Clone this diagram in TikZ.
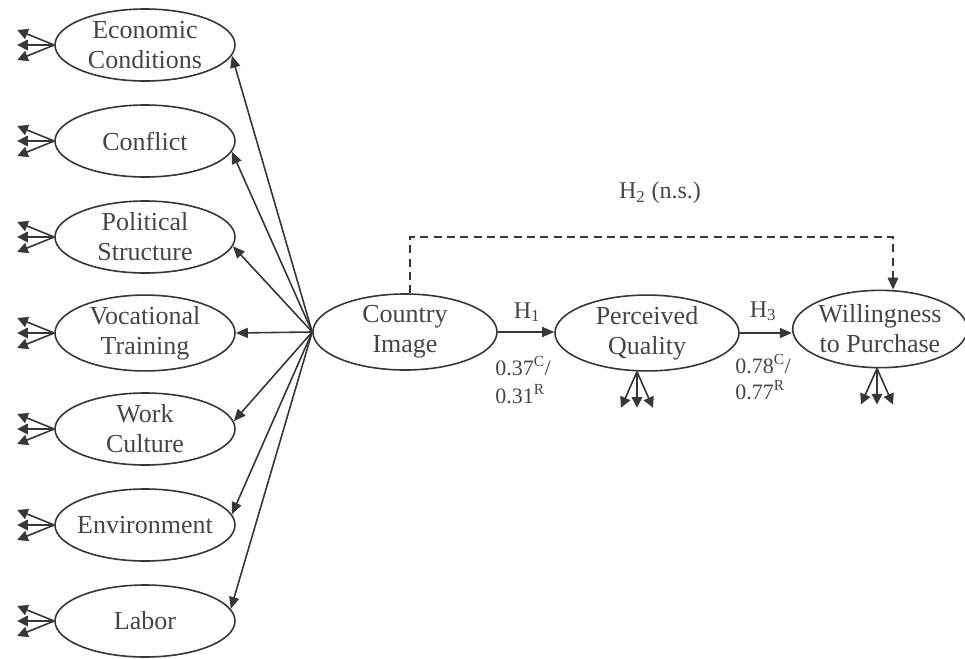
\documentclass[tikz,border=0pt]{standalone}
\usepackage{fontspec}
\setmainfont{Liberation Serif}
\usetikzlibrary{shapes.geometric,arrows.meta}
\definecolor{ink}{RGB}{52,56,56}
\definecolor{txt}{RGB}{68,70,70}
\begin{document}
\begin{tikzpicture}[x=0.75pt,y=-0.75pt,
  construct/.style={ellipse,draw=ink,line width=1.2pt,inner sep=0pt,align=center,
    text=txt,font=\fontsize{19.5}{22.5}\selectfont},
  dimension/.style={construct,minimum width=135pt,minimum height=54pt},
  path/.style={draw=ink,line width=1.2pt,-{Triangle[length=9pt,width=7.5pt]}},
  indicator/.style={draw=ink,line width=1.2pt,-{Triangle[length=8pt,width=8pt]}},
  h2path/.style={draw=ink,line width=1.2pt,dash pattern=on 6pt off 4pt,
    -{Triangle[length=9pt,width=8pt]}},
  coef/.style={text=txt,font=\fontsize{16.5}{20}\selectfont,align=left,inner sep=0pt},
  hyp/.style={text=txt,font=\fontsize{18}{21}\selectfont,inner sep=0pt}
]
\useasboundingbox (0,0) rectangle (965,658);

% formative dimensions of the country image
\node[dimension] (ec) at (145,45)  {Economic\\Conditions};
\node[dimension] (cf) at (145,141) {Conflict};
\node[dimension] (ps) at (145,237) {Political\\Structure};
\node[dimension] (vt) at (145,333) {Vocational\\Training};
\node[dimension] (wc) at (145,429) {Work\\Culture};
\node[dimension,inner xsep=-8pt] (en) at (145,525) {Environment};
\node[dimension] (lb) at (145,621) {Labor};

% core constructs
\node[construct,minimum width=138pt,minimum height=57pt] (ci) at (405,332) {Country\\Image};
\node[construct,minimum width=138pt,minimum height=53pt] (pq) at (647,333) {Perceived\\Quality};
\node[construct,minimum width=131pt,minimum height=58pt] (wp) at (880,329) {Willingness\\to Purchase};

% paths from country image to its dimensions
\draw[path] (ci.west) -- (ec.-7);
\draw[path] (ci.west) -- (cf.-7);
\draw[path] (ci.west) -- (ps.-6);
\draw[path] (ci.west) -- (vt.east);
\draw[path] (ci.west) -- (wc.5);
\draw[path] (ci.west) -- (en.7);
\draw[path] (ci.west) -- (lb.8);

% indicator arrows
\foreach \n in {ec,cf,ps,vt,wc,en,lb}{
  \draw[indicator] (\n.west) -- ++(-37,-15);
  \draw[indicator] (\n.west) -- ++(-37,0);
  \draw[indicator] (\n.west) -- ++(-37,15);
}
\foreach \n/\dx in {pq/-10,wp/-3}{
  \draw[indicator] ([xshift=\dx*0.75pt]\n.south) -- ++(-16,36);
  \draw[indicator] ([xshift=\dx*0.75pt]\n.south) -- ++(0,36);
  \draw[indicator] ([xshift=\dx*0.75pt]\n.south) -- ++(16,36);
}

% structural paths
\draw[path] (ci.east) -- (ci.east -| pq.west);
\draw[path] (pq.east) -- (pq.east -| wp.west);
\node[hyp] (h1) at (527,312) {H\textsubscript{1}};
\node[hyp] (h3) at (763,311) {H\textsubscript{3}};
\node[coef,anchor=west] (c1) at (495,366) {0.37\textsuperscript{C}/};
\node[coef,anchor=west] (r1) at (495,394) {0.31\textsuperscript{R}};
\node[coef,anchor=west] (c3) at (735,364) {0.78\textsuperscript{C}/};
\node[coef,anchor=west] (r3) at (735,390) {0.77\textsuperscript{R}};

% non-significant direct path
\coordinate (h2a) at (410,237);
\coordinate (h2b) at (893,237);
\draw[h2path] (h2a |- ci.north) -- (h2a) -- (h2b) -- (h2b |- wp.north);
\node[hyp] (h2) at (660,193) {H\textsubscript{2} (n.s.)};
\end{tikzpicture}
\end{document}
